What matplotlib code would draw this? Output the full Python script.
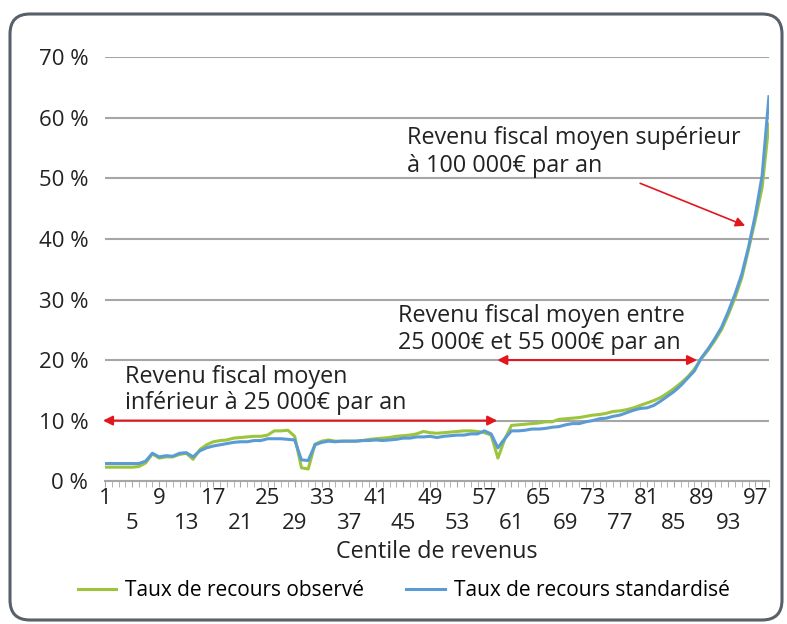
import matplotlib.pyplot as plt
import numpy as np
from matplotlib.patches import FancyBboxPatch

plt.rcParams['font.family'] = ['Open Sans', 'DejaVu Sans']

# centiles de revenus 1..99
centiles = list(range(1, 100))

# Taux de recours observé (%)
observe = [2.3, 2.3, 2.3, 2.3, 2.3, 2.4, 3.0, 4.5, 3.8, 4.0,
           4.0, 4.4, 4.6, 3.6, 5.2, 6.0, 6.5, 6.7, 6.8, 7.1,
           7.2, 7.3, 7.4, 7.4, 7.6, 8.3, 8.3, 8.4, 7.4, 2.2,
           2.0, 6.1, 6.6, 6.8, 6.6, 6.6, 6.6, 6.6, 6.7, 6.9,
           7.0, 7.1, 7.2, 7.4, 7.5, 7.6, 7.8, 8.2, 8.0, 7.9,
           8.0, 8.1, 8.2, 8.3, 8.3, 8.2, 8.0, 7.6, 3.8, 6.9,
           9.2, 9.3, 9.4, 9.5, 9.6, 9.8, 9.8, 10.2, 10.3, 10.4,
           10.5, 10.7, 10.9, 11.0, 11.2, 11.5, 11.6, 11.8, 12.1, 12.5,
           12.9, 13.3, 13.8, 14.5, 15.3, 16.2, 17.2, 18.5, 20.2, 21.6,
           23.2, 25.0, 27.5, 30.3, 33.6, 38.3, 43.2, 48.5, 59.0]

# Taux de recours standardisé (%)
standard = [2.9, 2.9, 2.9, 2.9, 2.9, 2.9, 3.3, 4.6, 4.0, 4.2,
            4.1, 4.6, 4.7, 4.0, 5.0, 5.5, 5.8, 6.0, 6.2, 6.4,
            6.5, 6.5, 6.7, 6.7, 7.0, 7.0, 7.0, 6.9, 6.8, 3.5,
            3.4, 6.0, 6.4, 6.6, 6.5, 6.6, 6.6, 6.6, 6.7, 6.7,
            6.8, 6.7, 6.8, 6.9, 7.1, 7.1, 7.3, 7.3, 7.4, 7.2,
            7.4, 7.5, 7.6, 7.6, 7.8, 7.8, 8.3, 7.8, 5.5, 7.0,
            8.3, 8.3, 8.4, 8.6, 8.6, 8.7, 8.9, 9.0, 9.3, 9.5,
            9.5, 9.8, 10.0, 10.3, 10.4, 10.7, 10.9, 11.3, 11.7, 12.0,
            12.1, 12.5, 13.2, 14.0, 14.8, 15.8, 17.0, 18.2, 20.3, 21.8,
            23.5, 25.4, 28.0, 30.9, 34.2, 38.7, 44.0, 50.5, 63.5]

yticks = [0, 10, 20, 30, 40, 50, 60, 70]
xticks = list(range(1, 98, 4))

green = '#9CC53D'
blue = '#5B9BD5'
red = '#E3161E'
grid = '#A6A6A6'
txt = '#222222'
fs = 16.8

fig = plt.figure(figsize=(7.87, 6.24), dpi=100)
ax = fig.add_axes([0.1334, 0.229, 0.8436, 0.679])

ax.plot(centiles, observe, color=green, lw=2.2, label='Taux de recours observé')
ax.plot(centiles, standard, color=blue, lw=2.2, label='Taux de recours standardisé')

ax.set_xlim(1, 99)
ax.set_ylim(0, 70)
ax.set_yticks(yticks)
ax.set_yticklabels([f'{v} %' for v in yticks], fontsize=16, color=txt)
ax.yaxis.grid(True, color=grid, lw=1.5)
ax.set_axisbelow(True)
ax.tick_params(axis='y', length=0, pad=12)

labels = []
for i, t in enumerate(xticks):
    labels.append(str(t) if i % 2 == 0 else '\n' + str(t))
ax.set_xticks(xticks)
ax.set_xticklabels(labels, fontsize=16, color=txt, linespacing=1.25)
ax.set_xticks(centiles, minor=True)
ax.tick_params(axis='x', which='major', length=4, color=grid, pad=1)
ax.tick_params(axis='x', which='minor', length=4, color=grid)
ax.set_xlabel('Centile de revenus', fontsize=fs, color=txt, labelpad=4)

for s in ['top', 'right', 'left']:
    ax.spines[s].set_visible(False)
ax.spines['bottom'].set_color(grid)
ax.spines['bottom'].set_linewidth(1.5)

# annotations
ax.annotate('', xy=(0.7, 10), xytext=(58.9, 10), annotation_clip=False,
            arrowprops=dict(arrowstyle='<|-|>', color=red, lw=1.5,
                            mutation_scale=14, shrinkA=0, shrinkB=0))
ax.text(4.0, 15.0, 'Revenu fiscal moyen\ninférieur à 25 000€ par an',
        fontsize=fs, color=txt, linespacing=1.1, va='center')

ax.annotate('', xy=(58.9, 20), xytext=(88.4, 20), annotation_clip=False,
            arrowprops=dict(arrowstyle='<|-|>', color=red, lw=1.5,
                            mutation_scale=14, shrinkA=0, shrinkB=0))
ax.text(44.3, 25.1, 'Revenu fiscal moyen entre\n25 000€ et 55 000€ par an',
        fontsize=fs, color=txt, linespacing=1.15, va='center')

ax.annotate('', xy=(95.5, 42.2), xytext=(80.0, 49.2), annotation_clip=False,
            arrowprops=dict(arrowstyle='-|>', color=red, lw=1.2,
                            mutation_scale=14, shrinkA=0, shrinkB=0))
ax.text(45.6, 54.4, 'Revenu fiscal moyen supérieur\nà 100 000€ par an',
        fontsize=fs, color=txt, linespacing=1.25, va='center')

fig.legend(loc='center', bbox_to_anchor=(0.513, 0.054), ncol=2, frameon=False,
           fontsize=15, handlelength=1.85, columnspacing=2.0, handletextpad=0.45)

# cadre arrondi
frame = FancyBboxPatch((10, 4), 772, 606, boxstyle='round,pad=0,rounding_size=20',
                       transform=None, fill=False, edgecolor='#58606A', lw=2.2)
fig.patches.append(frame)

fig.savefig('out.png', dpi=100)
